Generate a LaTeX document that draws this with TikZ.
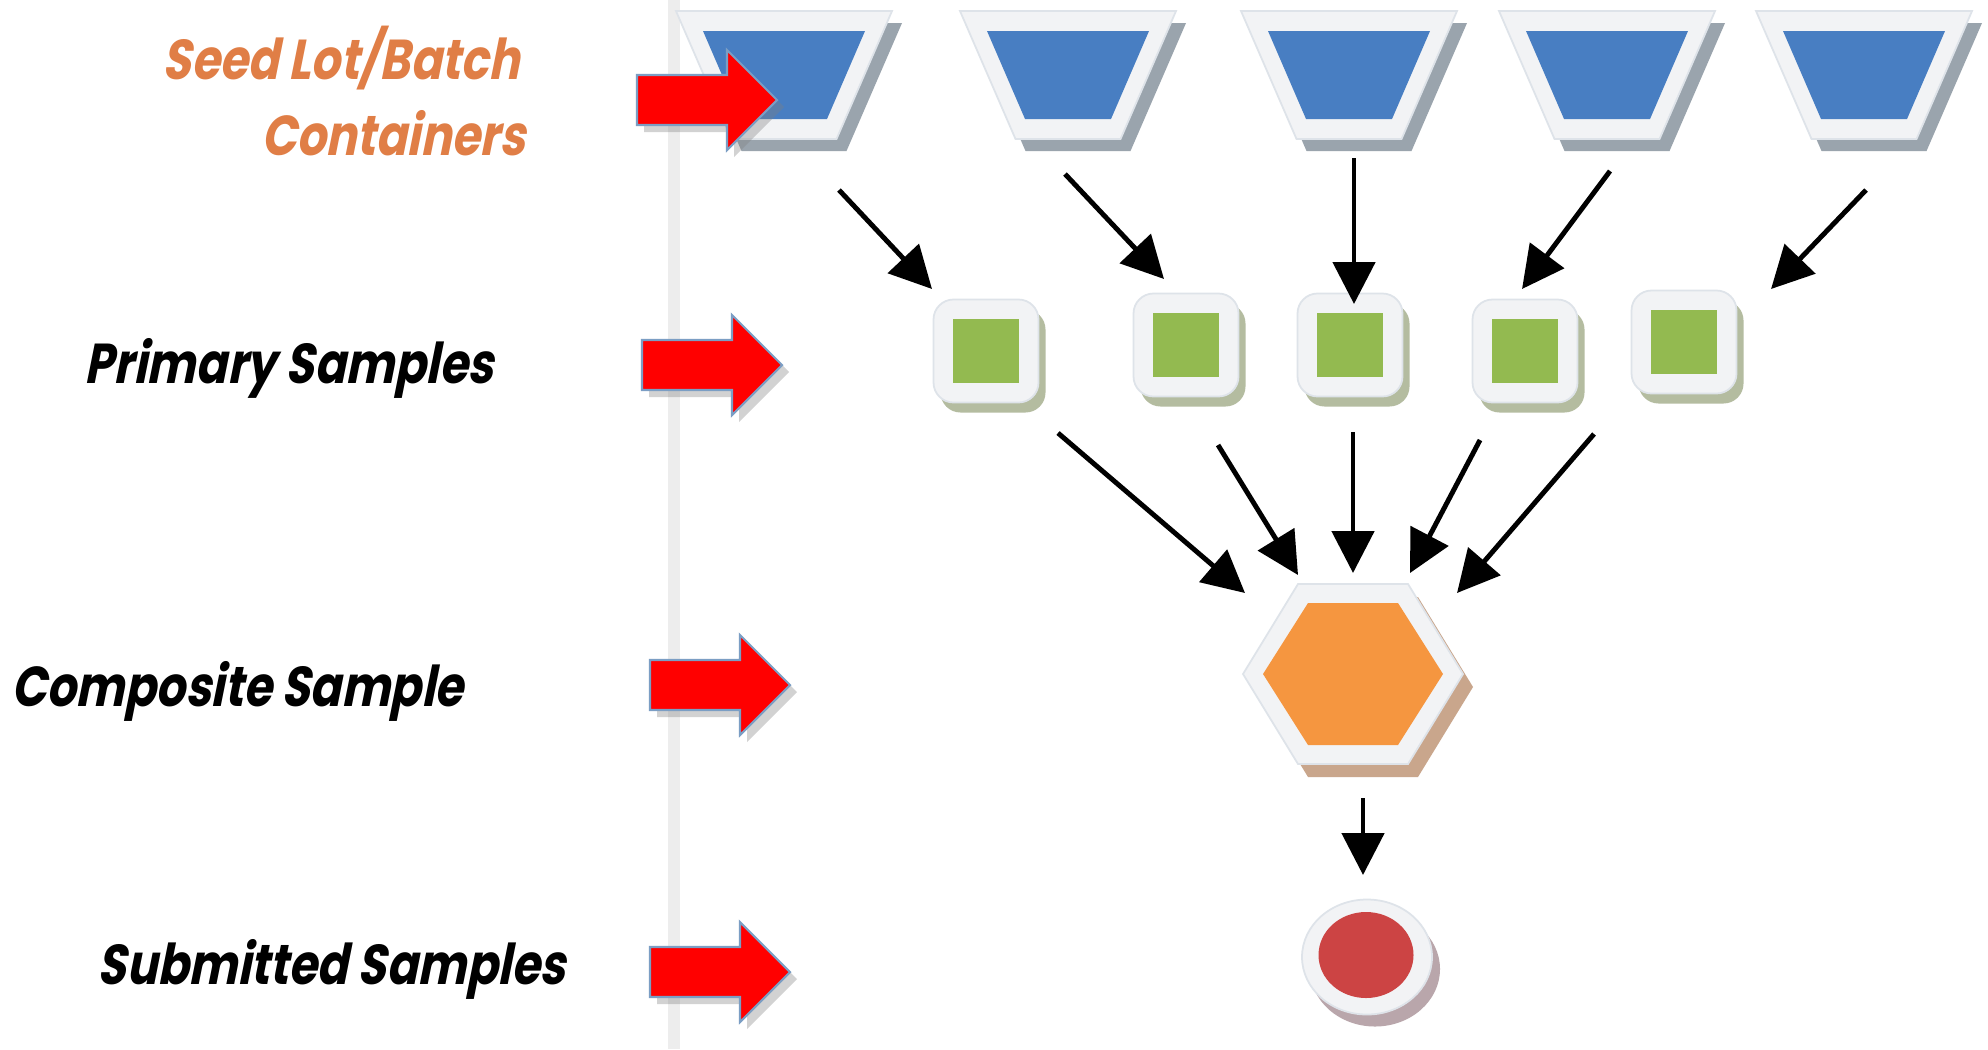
\documentclass[tikz,border=0pt]{standalone}
\usepackage{fontspec}
\newfontfamily\labfont[FakeSlant=0.2,FakeStretch=0.82]{Poppins}
\usetikzlibrary{arrows.meta,shapes.geometric,shadows}

\definecolor{seedorange}{RGB}{224,126,70}
\definecolor{boxblue}{RGB}{72,126,194}
\definecolor{boxgreen}{RGB}{147,186,80}
\definecolor{hexorange}{RGB}{245,150,64}
\definecolor{dotred}{RGB}{204,68,68}
\definecolor{framefill}{RGB}{242,243,245}
\definecolor{frameline}{RGB}{222,227,233}
\definecolor{trapshade}{RGB}{154,164,173}
\definecolor{sqshade}{RGB}{180,188,160}
\definecolor{hexshade}{RGB}{201,166,140}
\definecolor{dotshade}{RGB}{185,166,171}
\definecolor{arrowline}{RGB}{123,158,196}

\tikzset{
  frame/.style={fill=framefill, draw=frameline, line width=0.5pt, inner sep=0pt},
  sqout/.style={rectangle, rounded corners=2mm, minimum width=10.5mm, minimum height=10.3mm, inner sep=0pt},
  sqin/.style={rectangle, minimum width=6.6mm, minimum height=6.4mm, fill=boxgreen, inner sep=0pt},
  dot/.style={ellipse, inner sep=0pt},
  flow/.style={line width=1.4pt, -{Triangle[length=4.2mm,width=4.2mm]}},
  redarrow/.style={fill=red, draw=arrowline, line width=0.6pt,
    drop shadow={shadow xshift=0.7mm, shadow yshift=-0.7mm, opacity=0.35}},
  lab/.style={anchor=base east, inner sep=0pt, font=\labfont\bfseries\fontsize{16}{18}\selectfont}
}

\begin{document}
\begin{tikzpicture}[x=0.1mm,y=-0.1mm]
  \fill[white] (0,0) rectangle (1988,1049);
  \useasboundingbox (0,0) rectangle (1988,1049);
  \draw[black!7, line width=1.2mm] (674,0) -- (674,1049);
  % containers
  \foreach \x/\n in {784/1,1068/2,1349/3,1607/4,1864/5}{
    \coordinate (c\n) at (\x,75);
    \fill[trapshade] (\x-98,23) -- ++(216,0) -- ++(-55.5,128) -- ++(-105,0) -- cycle;
    \filldraw[frame] (\x-108,11) -- ++(216,0) -- ++(-55.5,128) -- ++(-105,0) -- cycle;
    \fill[boxblue] (\x-81,31) -- ++(162,0) -- ++(-38,88) -- ++(-86,0) -- cycle;
  }
  % primary samples
  \foreach \x/\y/\n in {986/351/1,1186/345/2,1350/345/3,1525/351/4,1684/342/5}{
    \node[sqout, fill=sqshade] at (\x+7,\y+10) {};
    \node[sqout, frame] (p\n) at (\x,\y) {};
    \node[sqin] at (\x,\y) {};
  }
  % composite
  \coordinate (comp) at (1353,674);
  \fill[hexshade] (1253,687) -- (1308,597) -- (1418,597) -- (1473,687) -- (1418,777) -- (1308,777) -- cycle;
  \filldraw[frame] (1243,674) -- (1298,584) -- (1408,584) -- (1463,674) -- (1408,764) -- (1298,764) -- cycle;
  \fill[hexorange] (1263,674) -- (1308,603) -- (1398,603) -- (1443,674) -- (1398,745) -- (1308,745) -- cycle;
  % submitted
  \node[dot, minimum width=13mm, minimum height=11.5mm, fill=dotshade] at (1375,969) {};
  \node[dot, minimum width=13mm, minimum height=11.5mm, frame] (sub) at (1367,957) {};
  \node[dot, minimum width=9.5mm, minimum height=8.6mm, fill=dotred] at (1366,955) {};
  % flow arrows
  \foreach \n/\sx/\sy/\ex/\ey in {1/839/190/932/289, 2/1065/174/1164/279,
      3/1354/158/1354/304, 4/1610/171/1522/289, 5/1866/190/1771/289,
      6/1058/433/1245/593, 7/1218/445/1298/575, 8/1353/432/1353/573,
      9/1480/440/1410/573, 10/1594/434/1457/593, 11/1363/798/1363/875}{
    \coordinate (s\n) at (\sx,\sy);
    \coordinate (e\n) at (\ex,\ey);
    \draw[flow] (s\n) -- (e\n);
  }
  % pointers
  \foreach \n/\x/\y in {1/707/100, 2/712/365, 3/720/685, 4/720/972}{
    \coordinate (r\n) at (\x,\y);
    \filldraw[redarrow] (\x-70,\y-25) -- ++(90,0) -- ++(0,-25) -- ++(50,50)
      -- ++(-50,50) -- ++(0,-25) -- ++(-90,0) -- cycle;
  }
  % labels
  \node[lab, text=seedorange] (seed) at (520,79) {Seed Lot/Batch};
  \node[lab, text=seedorange] (cont) at (526,155) {Containers};
  \node[lab] (prim) at (494,383) {Primary Samples};
  \node[lab] (compl) at (464,706) {Composite Sample};
  \node[lab] (subl) at (566,984) {Submitted Samples};
\end{tikzpicture}
\end{document}
